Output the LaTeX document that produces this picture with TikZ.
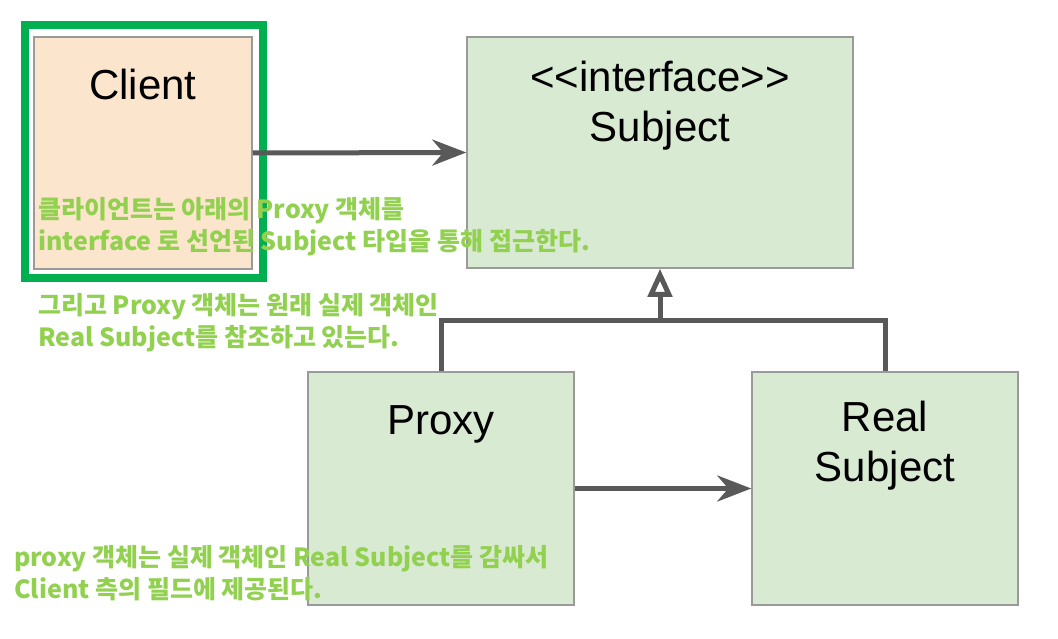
\documentclass[tikz,border=0pt]{standalone}
\usepackage{fontspec}
\setmainfont{Liberation Sans}
\newfontfamily\krfont{Noto Sans CJK KR}
\usetikzlibrary{arrows.meta,positioning}

\definecolor{clientfill}{HTML}{FCE5CD}
\definecolor{classfill}{HTML}{D9EAD3}
\definecolor{boxline}{HTML}{9A9A9A}
\definecolor{linkgray}{HTML}{595959}
\definecolor{framegreen}{HTML}{00B050}
\definecolor{notegreen}{HTML}{92D050}

\begin{document}
\begin{tikzpicture}[x=1pt, y=-1pt]
  % Styles
  \tikzset{
    box/.style={draw=boxline, line width=1.5pt, inner sep=0pt, fill=classfill},
    boxname/.style={font=\fontsize{42}{50}\selectfont, align=center, inner sep=0pt},
    link/.style={draw=linkgray, line width=5pt,
      -{Stealth[length=34pt, width=26pt, inset=11pt]}},
    inherit/.style={draw=linkgray, line width=5pt, line join=miter},
    note/.style={text=notegreen, font=\krfont\bfseries\fontsize{25}{32}\selectfont,
      align=left, anchor=west, inner sep=0pt},
  }

  \useasboundingbox (0,0) rectangle (1058,639);

  % Boxes
  \node[box, fill=clientfill, minimum width=218pt, minimum height=232pt] (client) at (143,153) {};
  \node[box, minimum width=386pt, minimum height=231pt] (subject) at (660,152.5) {};
  \node[box, minimum width=266pt, minimum height=233pt] (proxy) at (441,488.5) {};
  \node[box, minimum width=266pt, minimum height=233pt] (real) at (885,488.5) {};

  % Box names
  \node[boxname] (clientname) at ([yshift=-48pt]client.north) {Client};
  \node[boxname] (subjectname) at ([yshift=-69pt]subject.north) {<{}<interface>{}>\\Subject};
  \node[boxname] (proxyname) at ([yshift=-53pt]proxy.north) {Proxy};
  \node[boxname] (realname) at ([yshift=-74pt]real.north) {Real\\Subject};

  % Green frame round Client
  \node[draw=framegreen, line width=8pt, minimum width=238pt, minimum height=253pt] (frame) at (144,151.5) {};

  % Links
  \draw[link] (client.east) -- (subject.west);
  \draw[link] (proxy.east) -- (real.west);

  % Generalisation
  \coordinate (join) at (660,320);
  \draw[inherit] (proxy.north) |- (join) -| (real.north);
  \draw[inherit, -{Triangle[open, length=28pt, width=24pt]}] (join) -- (subject.south);

  % Notes
  \node[note] (note1) at (38,227) {클라이언트는 아래의 Proxy 객체를\\interface 로 선언된 Subject 타입을 통해 접근한다.};
  \node[note] (note2) at (38,323) {그리고 Proxy 객체는 원래 실제 객체인\\Real Subject를 참조하고 있는다.};
  \node[note] (note3) at (14,573) {proxy 객체는 실제 객체인 Real Subject를 감싸서\\Client 측의 필드에 제공된다.};
\end{tikzpicture}
\end{document}
